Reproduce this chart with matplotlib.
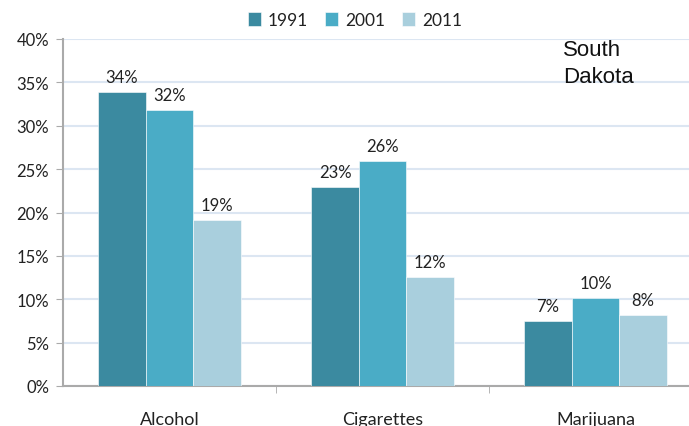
import matplotlib
matplotlib.use("Agg")
import matplotlib.pyplot as plt
import numpy as np

categories = ["Alcohol", "Cigarettes", "Marijuana"]
years = ["1991", "2001", "2011"]
v1991 = [33.9, 22.9, 7.5]
v2001 = [31.8, 25.9, 10.1]
v2011 = [19.1, 12.6, 8.2]
labels1991 = ["34%", "23%", "7%"]
labels2001 = ["32%", "26%", "10%"]
labels2011 = ["19%", "12%", "8%"]
colors = ["#3b8aa0", "#4aacc6", "#a9cfdd"]

plt.rcParams['font.family'] = ['Lato', 'DejaVu Sans']
fig = plt.figure(figsize=(6.89, 4.27), dpi=100)
ax = fig.add_axes([63/689, 40/427, 639/689, 347/427])

x = np.arange(len(categories))
w = 0.223
series = [v1991, v2001, v2011]
labs = [labels1991, labels2001, labels2011]
for i, (vals, lb) in enumerate(zip(series, labs)):
    pos = x + (i - 1) * w
    ax.bar(pos, vals, width=w, color=colors[i], label=years[i], zorder=3,
           edgecolor='white', linewidth=0.4)
    for p, v, t in zip(pos, vals, lb):
        ax.annotate(t, (p, v), xytext=(0, 5), textcoords='offset points',
                    ha='center', va='bottom', fontsize=12, color='#222222')

ax.set_xlim(-0.5, 2.5)
ax.set_ylim(0, 40)
ax.set_yticks(np.arange(0, 41, 5))
ax.set_yticklabels([f"{t}%" for t in range(0, 41, 5)], fontsize=12, color='#222222')
ax.set_xticks(x)
ax.set_xticklabels(categories, fontsize=13, color='#222222')
ax.set_xticks([0.5, 1.5], minor=True)
ax.tick_params(axis='x', which='major', length=0, pad=18)
ax.tick_params(axis='x', which='minor', length=5, color='#aaaaaa', direction='out')
ax.tick_params(axis='y', length=5, color='#aaaaaa', pad=5)
ax.grid(axis='y', color='#dce6f2', linewidth=1.5, zorder=0)
for s in ['top', 'right']:
    ax.spines[s].set_visible(False)
for s in ['left', 'bottom']:
    ax.spines[s].set_color('#aaaaaa')
    ax.spines[s].set_linewidth(1.5)

leg = fig.legend(loc='center', bbox_to_anchor=(355/689, 1 - 21/427), ncol=3, frameon=False,
                 fontsize=12.5, handlelength=0.75, handleheight=0.9, handletextpad=0.4,
                 columnspacing=1.0)
for t in leg.get_texts():
    t.set_color('#222222')

fig.text(563/689, 1 - 40/427, "South\nDakota", fontsize=16, family='Liberation Sans',
         ha='left', va='top', linespacing=1.35, color='#111111')

fig.savefig("out.png", dpi=100)
